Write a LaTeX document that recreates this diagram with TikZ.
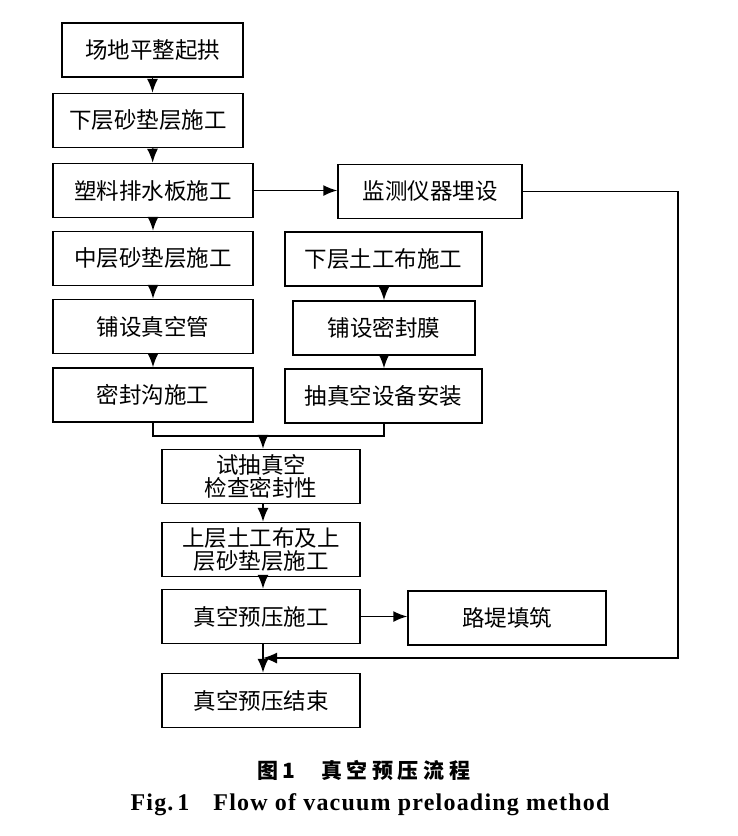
\documentclass[tikz,border=0pt]{standalone}
\usepackage{fontspec}
\setmainfont{Liberation Serif}
\newfontfamily\cjk{Noto Sans CJK SC}
\newfontfamily\cjkcap[LetterSpace=22]{Noto Sans CJK SC}
\usetikzlibrary{arrows.meta}

\begin{document}
\begin{tikzpicture}[x=1pt,y=-1pt,line width=1.5pt,
    >={Latex[length=14pt,width=11pt]},
    box/.style={draw,inner sep=0pt,minimum height=54pt,align=center,
      font=\cjk\fontsize{22.5}{23.5}\selectfont}]
          \useasboundingbox (0,0) rectangle (738,836);
          \node[box,minimum width=181pt] (pingzheng) at (152.5,50) {场地平整起拱};
          \node[box,minimum width=190pt] (xiasha) at (148,120.5) {下层砂垫层施工};
          \node[box,minimum width=200pt] (paishui) at (153,190.5) {塑料排水板施工};
          \node[box,minimum width=200pt] (zhongsha) at (153,258.5) {中层砂垫层施工};
          \node[box,minimum width=200pt] (zhenkongguan) at (153,326.5) {铺设真空管};
          \node[box,minimum width=200pt] (mifenggou) at (153,395) {密封沟施工};
          \node[box,minimum width=184pt] (jiance) at (430,191.5) {监测仪器埋设};
          \node[box,minimum width=197pt] (tugongbu) at (383.5,259) {下层土工布施工};
          \node[box,minimum width=182pt] (mifengmo) at (384,328) {铺设密封膜};
          \node[box,minimum width=197pt] (shebei) at (383.5,396) {抽真空设备安装};
          \node[box,minimum width=198pt] (shichou) at (261,476.5) {试抽真空\\检查密封性};
          \node[box,minimum width=198pt] (shangceng) at (261,549.5) {上层土工布及上\\层砂垫层施工};
          \node[box,minimum width=198pt] (yuya) at (261,616.5) {真空预压施工};
          \node[box,minimum width=198pt] (luti) at (507,618) {路堤填筑};
          \node[box,minimum width=198pt] (jieshu) at (261,700.5) {真空预压结束};
          \coordinate (hebing) at (263,436);
          \coordinate (huiliu) at (678,658);
          \draw[->] (pingzheng) -- (xiasha.north -| pingzheng);
          \draw[->] (xiasha.south -| pingzheng) -- (paishui);
          \draw[->] (paishui) -- (zhongsha);
          \draw[->] (zhongsha) -- (zhenkongguan);
          \draw[->] (zhenkongguan) -- (mifenggou);
          \draw[->] (tugongbu.south -| mifengmo) -- (mifengmo);
          \draw[->] (mifengmo) -- (shebei.north -| mifengmo);
          \draw[->] (paishui.east) -- (jiance.west |- paishui.east);
          \draw (mifenggou.south) |- (hebing) -| (shebei.south -| mifengmo);
          \draw[->] (hebing) -- (shichou.north -| hebing);
          \draw[->] (shichou.south -| hebing) -- (shangceng.north -| hebing);
          \draw[->] (shangceng.south -| hebing) -- (yuya.north -| hebing);
          \draw[->] (yuya.east) -- (luti.west |- yuya.east);
          \draw[->] (jiance.east) -| (huiliu) -- (huiliu -| hebing);
          \draw[->] (yuya.south -| hebing) -- (jieshu.north -| hebing);
          \node[font=\cjkcap\bfseries\fontsize{21}{21}\selectfont] (tuming) at (364,770) {图\,1\hspace{26pt}真空预压流程};
          \node[font=\bfseries\fontsize{24}{24}\selectfont\addfontfeature{LetterSpace=5}] (figname) at (370,805) {Fig.\,1\hspace{24pt}Flow of vacuum preloading method};
        \end{tikzpicture}
\end{document}
